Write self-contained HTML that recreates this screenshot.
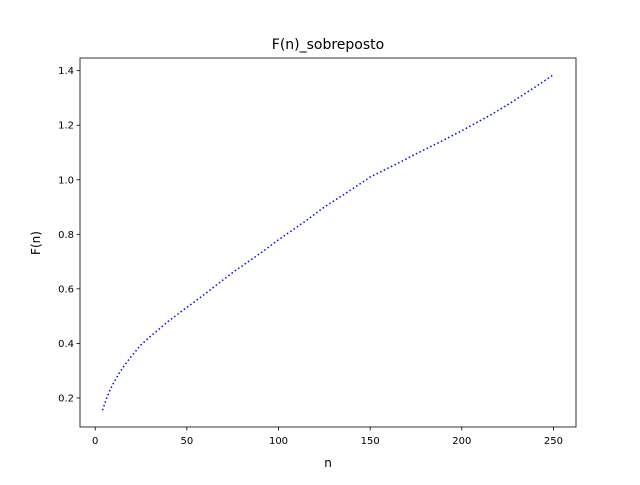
<!DOCTYPE html>
<html><head><meta charset="utf-8"><style>
body{margin:0;background:#fff;}
svg text{font-family:"DejaVu Sans","Liberation Sans",sans-serif;fill:#000;}
</style></head><body>
<svg id="chart" width="640" height="480" xmlns="http://www.w3.org/2000/svg">
<rect width="640" height="480" fill="#fff"/>
<text x="328" y="49" font-size="14" text-anchor="middle">F(n)_sobreposto</text>
<g id="ticks"></g>
<polyline id="line" fill="none" stroke="#0000ff" stroke-width="1.5" stroke-dasharray="1.5 2.5"/>
<rect x="80" y="58" width="496" height="369" fill="none" stroke="#000" stroke-width="0.8"/>
<text x="328" y="467" font-size="12" text-anchor="middle">n</text>
<text x="0" y="0" font-size="12" text-anchor="middle" transform="translate(40,243) rotate(-90)">F(n)</text>
</svg>
<script>
const nValues=[4,6,8,10,13,16,20,25,30,40,50,60,75,90,100,115,125,140,150,165,175,190,200,215,225,240,250];
const fValues=[0.155,0.195,0.228,0.255,0.29,0.32,0.355,0.395,0.425,0.482,0.532,0.582,0.66,0.73,0.78,0.85,0.90,0.965,1.01,1.06,1.095,1.145,1.18,1.235,1.275,1.34,1.385];
const xTicks=[0,50,100,150,200,250];
const yTicks=[0.2,0.4,0.6,0.8,1.0,1.2,1.4];
const xMin=-8.3,xMax=262.3,yMin=0.0935,yMax=1.4465;
function xs(v){return 80+(v-xMin)/(xMax-xMin)*496;}
function ys(v){return 427-(v-yMin)/(yMax-yMin)*369;}
const NS="http://www.w3.org/2000/svg";
const g=document.getElementById('ticks');
xTicks.forEach(t=>{
  const l=document.createElementNS(NS,'line');
  l.setAttribute('x1',xs(t));l.setAttribute('x2',xs(t));l.setAttribute('y1',427);l.setAttribute('y2',430.5);l.setAttribute('stroke','#000');l.setAttribute('stroke-width','0.8');
  
  
  g.appendChild(l);
  const tx=document.createElementNS(NS,'text');
  tx.setAttribute('x',xs(t));tx.setAttribute('y',444);tx.setAttribute('font-size','10');tx.setAttribute('text-anchor','middle');
  tx.textContent=t;
  
  
  g.appendChild(tx);
});
yTicks.forEach(t=>{
  const l=document.createElementNS(NS,'line');
  l.setAttribute('x1',76.5);l.setAttribute('x2',80);l.setAttribute('y1',ys(t));l.setAttribute('y2',ys(t));l.setAttribute('stroke','#000');l.setAttribute('stroke-width','0.8');
  
  
  g.appendChild(l);
  const tx=document.createElementNS(NS,'text');
  tx.setAttribute('x',74);tx.setAttribute('y',ys(t)+3.5);tx.setAttribute('font-size','10');tx.setAttribute('text-anchor','end');
  tx.textContent=t.toFixed(1);
  
  
  g.appendChild(tx);
});
document.getElementById('line').setAttribute('points',nValues.map((n,i)=>xs(n)+','+ys(fValues[i])).join(' '));
</script>
</body></html>
